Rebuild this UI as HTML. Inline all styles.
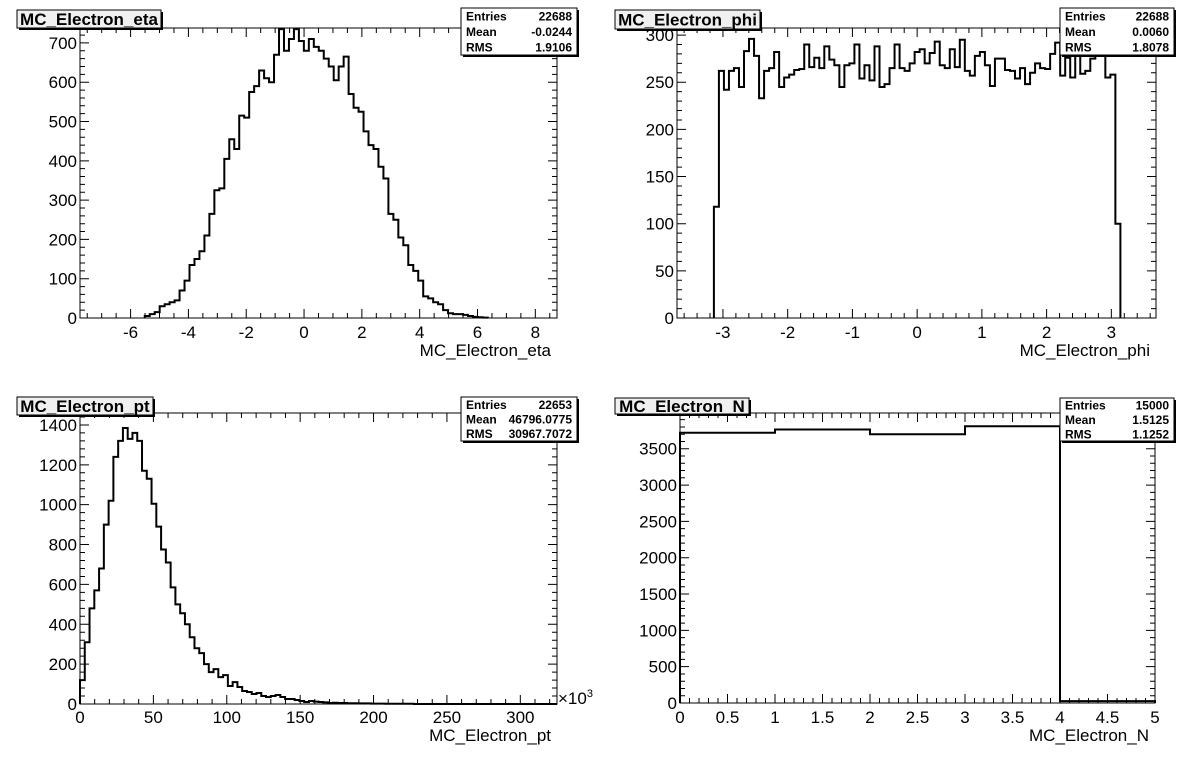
<!DOCTYPE html>
<html><head><meta charset="utf-8"><style>
html,body{margin:0;padding:0;background:#fff;}
svg{display:block;font-family:"Liberation Sans",Arial,sans-serif;}
</style></head><body>
<svg id="c" width="1196" height="772" xmlns="http://www.w3.org/2000/svg"></svg>
<script>
const S=document.getElementById('c');let out='';
function pad(o){
 const {L,T,R,B,xa,xb,ya,yb}=o;
 const X=v=>L+(v-xa)/(xb-xa)*(R-L), Y=v=>B-(v-ya)/(yb-ya)*(B-T);
 out+=`<rect x="${L}" y="${T}" width="${R-L}" height="${B-T}" fill="#fff" stroke="#000" stroke-width="1"/>`;
 let t='';
 const xs=o.xmaj/o.xmin;
 for(let k=Math.ceil(xa/xs-1e-6);k*xs<=xb+1e-9;k++){const v=k*xs,px=X(v);const maj=Math.abs(v/o.xmaj-Math.round(v/o.xmaj))<1e-6;const l=maj?9:5;
  t+=`M${px} ${B}v${-l}M${px} ${T}v${l}`;
  if(maj) out+=`<text x="${px}" y="${o.xly}" font-size="17" text-anchor="middle">${+v.toFixed(3)}</text>`;}
 const ys=o.ymaj/o.ymin;
 for(let k=0;k*ys<=yb+1e-9;k++){const v=k*ys,py=Y(v);const maj=k%o.ymin==0;const l=maj?9:5;
  t+=`M${L} ${py}h${l}M${R} ${py}h${-l}`;
  if(maj) out+=`<text x="${L-3}" y="${py+6}" font-size="17" text-anchor="end">${v}</text>`;}
 out+=`<path d="${t}" stroke="#000" stroke-width="1" fill="none"/>`;
 let d=`M${X(o.x0)} ${Y(0)}`;
 o.vals.forEach((v,i)=>{const x1=X(o.x0+i*o.w),x2=X(o.x0+(i+1)*o.w);const y=Y(Math.min(v,yb));d+=`L${x1} ${y}L${x2} ${y}`;});
 d+=`L${X(o.x0+o.vals.length*o.w)} ${Y(0)}`;
 out+=`<path d="${d}" stroke="#000" stroke-width="2" fill="none"/>`;
 out+=`<text x="${R-6}" y="${o.tly}" font-size="17" text-anchor="end">${o.title}</text>`;
}
function tbox(x,y,w,h,s,fs){out+=`<rect x="${x+2}" y="${y+2}" width="${w}" height="${h}" fill="#000"/><rect x="${x}" y="${y}" width="${w}" height="${h}" fill="#f0f0f0" stroke="#000"/><text x="${x+w/2}" y="${y+h/2+fs*0.36}" font-size="${fs}" font-weight="bold" text-anchor="middle">${s}</text>`;}
function sbox(x,y,w,h,rows){out+=`<rect x="${x+2}" y="${y+2}" width="${w}" height="${h}" fill="#000"/><rect x="${x}" y="${y}" width="${w}" height="${h}" fill="#fff" stroke="#000"/>`;
 rows.forEach((r,i)=>{const yy=y+h*(i+0.5)/3+4.5;out+=`<text x="${x+5}" y="${yy}" font-size="12" font-weight="bold">${r[0]}</text><text x="${x+w-5}" y="${yy}" font-size="12" font-weight="bold" text-anchor="end">${r[1]}</text>`;});}
const eta=[5,10,15,30,35,40,45,70,95,135,150,170,210,265,325,330,405,455,430,515,510,575,590,630,610,600,670,735,680,710,735,705,680,710,690,680,660,640,605,640,665,570,535,525,475,440,430,385,355,265,250,205,185,135,120,95,55,50,40,35,20,12,10,10,8,5,3,2,1];
pad({L:80,T:28,R:557,B:318,xa:-7.75,xb:8.75,ya:0,yb:738,xmaj:2,xmin:4,ymaj:100,ymin:5,xly:338,tly:356,x0:-5.51,w:0.172,vals:eta,title:'MC_Electron_eta'});
const ph=[262,242,262,265,245,283,296,278,233,262,265,282,245,255,258,263,264,290,266,276,265,288,274,268,245,268,270,290,254,268,252,288,245,248,265,290,265,262,270,282,285,270,281,293,268,265,285,266,295,262,257,278,282,268,246,275,275,263,262,254,265,248,260,270,265,264,280,292,257,276,255,286,259,262,275,286,280,255,258];
const phw=6.20/ph.length;
const phv=[118].concat(ph,[100]);
pad({L:677,T:28,R:1156,B:318,xa:-3.71,xb:3.69,ya:0,yb:307.5,xmaj:1,xmin:5,ymaj:50,ymin:5,xly:338,tly:356,x0:-3.14,w:6.28/phv.length,vals:phv,title:'MC_Electron_phi'});
const pt=[120,310,480,570,680,900,1020,1240,1320,1385,1330,1360,1320,1170,1130,1005,890,775,710,585,500,455,400,335,280,255,200,160,175,135,145,90,110,85,65,60,50,55,40,35,40,45,35,25,25,20,15,10,15,12,10,8,5,6,5,5,4,4,3,3,3,2,2,2,1,1,1,1,1,1,0,0,0,0,0,0,0,0,0,0,0,0,0,0,0,0,0,0,0,0,0,0,0,0,0,0,0,0,0,0];
pad({L:80,T:413,R:557,B:704,xa:0,xb:325,ya:0,yb:1460,xmaj:50,xmin:5,ymaj:200,ymin:5,xly:723,tly:741,x0:0,w:3.25,vals:pt,title:'MC_Electron_pt'});
out+=`<text x="558" y="704" font-size="17">×10<tspan font-size="11" dy="-7">3</tspan></text>`;
pad({L:680,T:413,R:1155,B:703,xa:0,xb:5,ya:0,yb:3992,xmaj:0.5,xmin:5,ymaj:500,ymin:5,xly:723,tly:741,x0:0,w:1,vals:[3720,3765,3700,3810,25],title:'MC_Electron_N'});
tbox(17,10,144,18,'MC_Electron_eta',17);
tbox(615,10,145,19,'MC_Electron_phi',17);
tbox(17,397,136,18,'MC_Electron_pt',17);
tbox(615,398,134,16,'MC_Electron_N',17);
sbox(461,8,116,47,[['Entries','22688'],['Mean','-0.0244'],['RMS','1.9106']]);
sbox(1060,8,114,47,[['Entries','22688'],['Mean','0.0060'],['RMS','1.8078']]);
sbox(461,397,116,44,[['Entries','22653'],['Mean','46796.0775'],['RMS','30967.7072']]);
sbox(1060,398,114,43,[['Entries','15000'],['Mean','1.5125'],['RMS','1.1252']]);
S.innerHTML=out;
</script>
</body></html>
